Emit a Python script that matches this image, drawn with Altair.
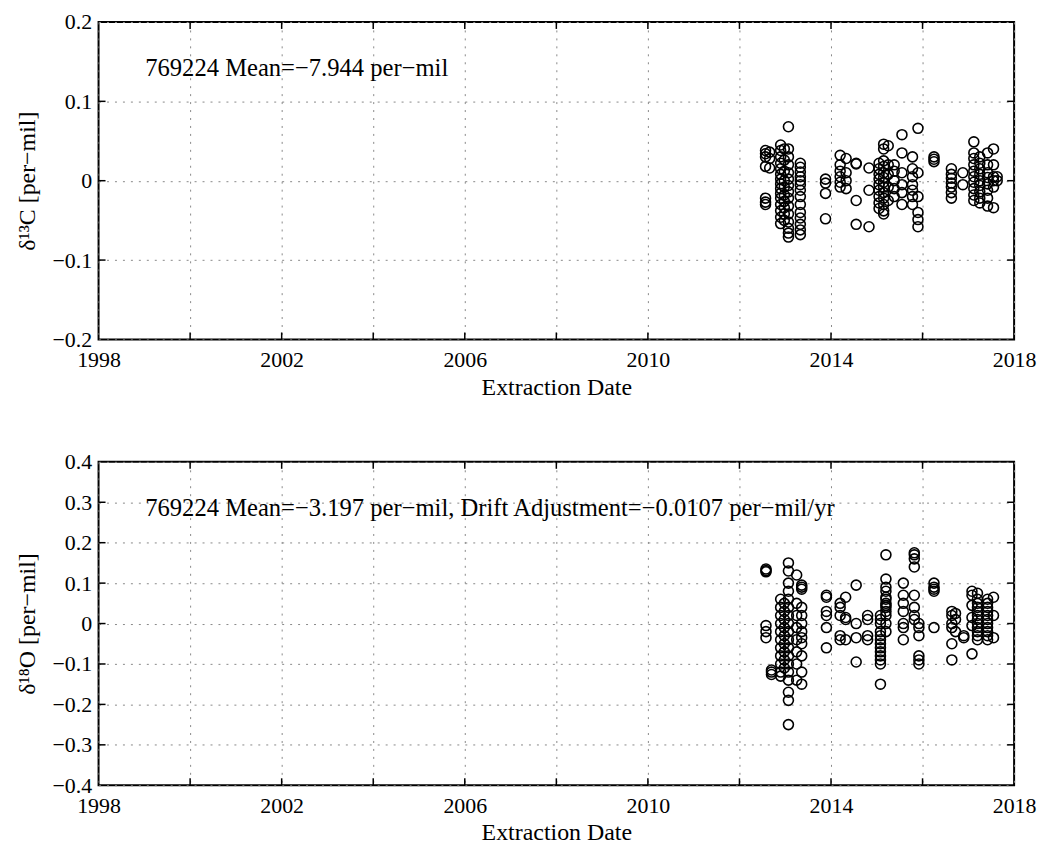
import altair as alt
import pandas as pd

# delta13C residuals [per-mil], grouped by extraction date (decimal year)
c13_batches = {
    2012.57: [0.038, 0.034, 0.030, 0.018, -0.022, -0.027, -0.030],
    2012.66: [0.036, 0.028, 0.016],
    2012.90: [0.045, 0.038, 0.030, 0.022, 0.015, 0.008, 0.002, -0.004, -0.010, -0.016, -0.022, -0.030, -0.038, -0.046, -0.054],
    2012.98: [0.040, 0.026, 0.012, 0.000, -0.008, -0.018, -0.026, -0.034, -0.042, -0.050],
    2013.07: [0.068, 0.040, 0.030, 0.020, 0.010, 0.002, -0.006, -0.014, -0.022, -0.032, -0.042, -0.052, -0.060, -0.066, -0.071],
    2013.33: [0.022, 0.017, 0.011, 0.005, 0.000, -0.005, -0.012, -0.020, -0.030, -0.040, -0.047, -0.055, -0.062, -0.068],
    2013.88: [0.002, -0.003, -0.016, -0.048],
    2014.20: [0.032, 0.020, 0.012, 0.005, -0.002, -0.008],
    2014.33: [0.028, 0.010, 0.000, -0.010],
    2014.55: [0.022, 0.021, -0.025, -0.055],
    2014.83: [0.016, -0.012, -0.058],
    2015.05: [0.022, 0.015, 0.008, 0.002, -0.005, -0.012, -0.020, -0.028, -0.035],
    2015.15: [0.046, 0.040, 0.025, 0.018, 0.010, 0.004, -0.002, -0.008, -0.015, -0.022, -0.030, -0.038, -0.042],
    2015.25: [0.044, 0.020, 0.008, -0.008, -0.025],
    2015.38: [0.020, 0.012, 0.000, -0.010, -0.020],
    2015.55: [0.058, 0.035, 0.010, -0.005, -0.015, -0.030],
    2015.78: [0.030, 0.015, 0.005, -0.005, -0.012, -0.020, -0.030],
    2015.90: [0.066, 0.010, -0.020, -0.040, -0.049, -0.058],
    2016.25: [0.030, 0.027, 0.024],
    2016.63: [0.015, 0.008, 0.003, -0.003, -0.008, -0.015, -0.022],
    2016.88: [0.010, -0.005],
    2017.12: [0.049, 0.035, 0.028, 0.020, 0.012, 0.005, -0.002, -0.010, -0.018, -0.025],
    2017.25: [0.030, 0.022, 0.015, 0.008, 0.000, -0.006, -0.014, -0.022, -0.028],
    2017.42: [0.035, 0.020, 0.010, 0.004, -0.004, -0.012, -0.022, -0.032],
    2017.55: [0.040, 0.020, 0.005, 0.000, -0.008, -0.034],
    2017.63: [0.005, 0.000],
}

# delta18O residuals [per-mil], grouped by extraction date (decimal year)
o18_batches = {
    2012.58: [0.135, 0.131, 0.128, -0.005, -0.020, -0.035],
    2012.70: [-0.115, -0.120, -0.126],
    2012.90: [0.060, 0.040, 0.020, 0.000, -0.020, -0.040, -0.060, -0.080, -0.100, -0.120, -0.130],
    2012.98: [0.050, 0.030, 0.010, -0.010, -0.030, -0.050, -0.070, -0.090, -0.110],
    2013.07: [0.150, 0.130, 0.100, 0.080, 0.060, 0.040, 0.020, 0.000, -0.020, -0.040, -0.060, -0.080, -0.100, -0.120, -0.140, -0.170, -0.190, -0.250],
    2013.25: [0.120, 0.050, 0.020, -0.010, -0.040, -0.070, -0.100, -0.140],
    2013.36: [0.095, 0.090, 0.085, 0.040, 0.020, 0.000, -0.020, -0.035, -0.050, -0.080, -0.120, -0.150],
    2013.90: [0.070, 0.065, 0.030, 0.020, -0.010, -0.060],
    2014.20: [0.050, 0.040, 0.020, -0.030, -0.040],
    2014.32: [0.065, 0.015, 0.010, -0.040],
    2014.55: [0.095, 0.000, -0.035, -0.095],
    2014.80: [0.020, 0.010, -0.030, -0.040],
    2015.08: [0.020, 0.010, 0.000, -0.020, -0.030, -0.040, -0.050, -0.060, -0.070, -0.080, -0.090, -0.100, -0.150],
    2015.20: [0.170, 0.110, 0.090, 0.080, 0.065, 0.060, 0.050, 0.045, 0.040, 0.030, 0.020, 0.000, -0.020],
    2015.58: [0.100, 0.070, 0.050, 0.030, 0.000, -0.010, -0.040],
    2015.82: [0.175, 0.170, 0.160, 0.140, 0.070, 0.040, 0.020, 0.010],
    2015.92: [0.000, -0.010, -0.030, -0.080, -0.090, -0.100],
    2016.25: [0.100, 0.090, 0.085, 0.080, -0.010],
    2016.64: [0.030, 0.020, 0.000, -0.010, -0.050, -0.090],
    2016.72: [0.025, 0.010, -0.020],
    2016.90: [-0.035, -0.030],
    2017.08: [0.080, 0.070, 0.045, 0.015, -0.005, -0.075],
    2017.20: [0.075, 0.060, 0.050, 0.040, 0.030, 0.020, 0.010, 0.000, -0.010, -0.020, -0.030, -0.040],
    2017.42: [0.060, 0.050, 0.040, 0.030, 0.020, 0.010, 0.000, -0.010, -0.020, -0.030, -0.040],
    2017.55: [0.065, 0.020, -0.035],
}

c13_note = "769224 Mean=\u22127.944 per\u2212mil"
o18_note = "769224 Mean=\u22123.197 per\u2212mil, Drift Adjustment=\u22120.0107 per\u2212mil/yr"

c13_ticks = [-0.2, -0.1, 0.0, 0.1, 0.2]
o18_ticks = [-0.4, -0.3, -0.2, -0.1, 0.0, 0.1, 0.2, 0.3, 0.4]
year_ticks = list(range(1998, 2019, 2))

FONT = "Liberation Serif"
W = 920


def to_frame(batches):
    rows = [(d, v) for d, vals in batches.items() for v in vals]
    return pd.DataFrame(rows, columns=["date", "val"])


def make_panel(batches, note, note_pos, yticks, ytitle, h):
    """
    One scatter panel with boxed frame, dotted grid and inward ticks
    """
    x = alt.X("date:Q",
              scale=alt.Scale(domain=[1998, 2018], nice=False, zero=False),
              axis=alt.Axis(values=year_ticks, format="d",
                            labelExpr="(datum.value - 1998) % 4 == 0 ? datum.label : ''",
                            title="Extraction Date", ticks=False, domain=False,
                            labelPadding=10, titlePadding=5, labelFlush=False))
    y = alt.Y("val:Q",
              scale=alt.Scale(domain=[yticks[0], yticks[-1]], nice=False, zero=False),
              axis=alt.Axis(values=yticks, format=".1~f", title=ytitle,
                            ticks=False, domain=False, labelPadding=7,
                            titlePadding=12, labelFlush=False))

    points = alt.Chart(to_frame(batches)).mark_point(
        shape="circle", filled=False, color="black", strokeWidth=1.6, size=100, opacity=1
    ).encode(x=x, y=y)

    label = alt.Chart(pd.DataFrame({"date": [note_pos[0]], "val": [note_pos[1]], "t": [note]})).mark_text(
        align="left", baseline="middle", font=FONT, fontSize=24.7, color="black"
    ).encode(x=x, y=y, text="t:N")

    xt = pd.DataFrame({"date": year_ticks[1:-1]})
    yt = pd.DataFrame({"val": yticks[1:-1]})
    tick = dict(color="black", strokeWidth=1.5)
    ticks = (
        alt.Chart(xt).mark_rule(**tick).encode(x=x, y=alt.value(0), y2=alt.value(7))
        + alt.Chart(xt).mark_rule(**tick).encode(x=x, y=alt.value(h - 7), y2=alt.value(h))
        + alt.Chart(yt).mark_rule(**tick).encode(y=y, x=alt.value(0), x2=alt.value(7))
        + alt.Chart(yt).mark_rule(**tick).encode(y=y, x=alt.value(W - 7), x2=alt.value(W))
    )

    return (ticks + points + label).properties(width=W, height=h)


top = make_panel(c13_batches, c13_note, (1999.02, 0.141), c13_ticks,
                 "\u03b4\u00b9\u00b3C [per\u2212mil]", 319)
bottom = make_panel(o18_batches, o18_note, (1999.02, 0.284), o18_ticks,
                    "\u03b4\u00b9\u2078O [per\u2212mil]", 325)

chart = alt.vconcat(top, bottom, spacing=50).properties(
    padding={"left": 7, "top": 0, "right": 0, "bottom": 0}
).configure_view(
    stroke="black", strokeWidth=2
).configure_axis(
    labelFont=FONT, titleFont=FONT, labelFontSize=22, titleFontSize=24,
    labelColor="black", titleColor="black", titleFontWeight="normal",
    grid=True, gridColor="#888888", gridDash=[2, 6], gridWidth=1, gridOpacity=1
)

chart.save("out.html", embed_options={"renderer": "svg", "actions": False})
